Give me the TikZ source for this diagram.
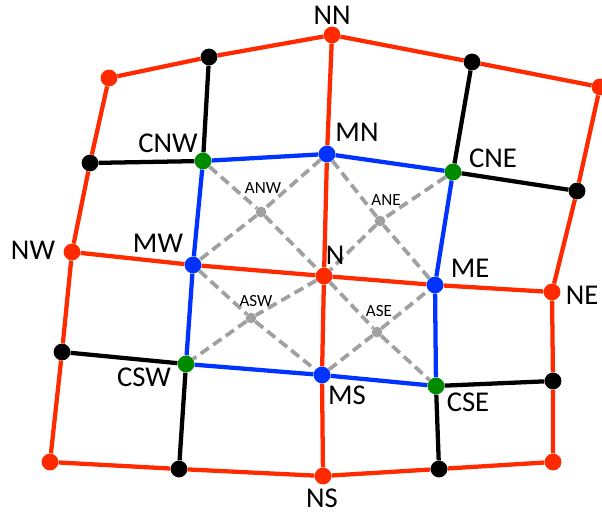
\documentclass[tikz,border=0pt]{standalone}
\usepackage{fontspec}
\setmainfont{Carlito}
\usetikzlibrary{backgrounds}
\definecolor{gred}{HTML}{FF2A00}
\definecolor{gblue}{HTML}{0033FF}
\definecolor{ggreen}{HTML}{008A00}
\definecolor{ggray}{HTML}{A0A0A0}
\begin{document}
\begin{tikzpicture}[x=0.75pt,y=-0.75pt,
  dot/.style={circle,inner sep=0pt,minimum size=12.6pt},
  reddot/.style={dot,fill=gred},
  bluedot/.style={dot,fill=gblue},
  greendot/.style={dot,fill=ggreen},
  blkdot/.style={dot,fill=black},
  graydot/.style={circle,inner sep=0pt,minimum size=8pt,fill=ggray},
  lbl/.style={font=\fontsize{21.5}{21.5}\selectfont,inner sep=0pt},
  slbl/.style={font=\fontsize{12.8}{12.8}\selectfont,inner sep=0pt},
  redline/.style={draw=gred,line width=3.2pt},
  blueline/.style={draw=gblue,line width=3.2pt},
  blkline/.style={draw=black,line width=3.2pt},
  grayline/.style={draw=ggray,line width=2.8pt,dash pattern=on 7.5pt off 4pt}]
\useasboundingbox (0,0) rectangle (602,516);
% dots
\node[reddot] (NN) at (332,35) {};
\node[reddot] (TL) at (109,78) {};
\node[blkdot] (TBL) at (209,57) {};
\node[blkdot] (TBR) at (472,62) {};
\node[reddot] (TR) at (600,87) {};
\node[blkdot] (RB1) at (577,191) {};
\node[reddot] (NE) at (552,292) {};
\node[blkdot] (RB2) at (553,381) {};
\node[reddot] (BR) at (553,462) {};
\node[blkdot] (BBR) at (439,469) {};
\node[reddot] (NS) at (323,476) {};
\node[blkdot] (BBL) at (179,469) {};
\node[reddot] (BL) at (50,462) {};
\node[blkdot] (LB2) at (62,352) {};
\node[reddot] (NW) at (72,252) {};
\node[blkdot] (LB1) at (90,163) {};
\node[greendot] (CNW) at (203,161) {};
\node[bluedot] (MN) at (327,154) {};
\node[greendot] (CNE) at (453,172) {};
\node[bluedot] (MW) at (193,265) {};
\node[reddot] (N) at (324,276) {};
\node[bluedot] (ME) at (435,285) {};
\node[greendot] (CSW) at (186,364) {};
\node[bluedot] (MS) at (322,375) {};
\node[greendot] (CSE) at (436,386) {};
\node[graydot] (ANW) at (261,212) {};
\node[graydot] (ANE) at (380,221) {};
\node[graydot] (ASW) at (251,318) {};
\node[graydot] (ASE) at (377,332) {};
% labels
\node[lbl] (lNN) at (332,15) {NN};
\node[lbl] (lCNW) at (168,143) {CNW};
\node[lbl] (lMN) at (357,132) {MN};
\node[lbl] (lCNE) at (493,158) {CNE};
\node[lbl] (lNW) at (33,250) {NW};
\node[lbl] (lMW) at (158,243) {MW};
\node[lbl] (lN) at (335,255) {N};
\node[lbl] (lME) at (470,268) {ME};
\node[lbl] (lNE) at (582,295) {NE};
\node[lbl] (lCSW) at (144,377) {CSW};
\node[lbl] (lMS) at (347,395) {MS};
\node[lbl] (lCSE) at (468,402) {CSE};
\node[lbl] (lNS) at (322,498) {NS};
\node[slbl] (lANW) at (263,188) {ANW};
\node[slbl] (lANE) at (386,200) {ANE};
\node[slbl] (lASW) at (256,301) {ASW};
\node[slbl] (lASE) at (379,311) {ASE};
\begin{pgfonlayer}{background}
% gray dashed
\path[grayline] (CNW) -- (ANW) -- (N) -- (ASE) -- (CSE);
\path[grayline] (CNE) -- (ANE) -- (N) -- (ASW) -- (CSW);
\path[grayline] (MN) -- (ANW) -- (MW) -- (ASW) -- (MS) -- (ASE) -- (ME) -- (ANE) -- (MN);
% black
\path[blkline] (CNW) -- (TBL) (CNW) -- (LB1) (CNE) -- (TBR) (CNE) -- (RB1)
  (CSW) -- (LB2) (CSW) -- (BBL) (CSE) -- (RB2) (CSE) -- (BBR);
% red
\path[redline] (TL) -- (TBL) -- (NN) -- (TBR) -- (TR) -- (RB1) -- (NE) -- (RB2) -- (BR)
  -- (BBR) -- (NS) -- (BBL) -- (BL) -- (LB2) -- (NW) -- (LB1) -- (TL);
\path[redline] (NN) -- (MN) -- (N) -- (MS) -- (NS);
\path[redline] (NW) -- (MW) -- (N) -- (ME) -- (NE);
% blue
\path[blueline] (CNW) -- (MN) -- (CNE) -- (ME) -- (CSE) -- (MS) -- (CSW) -- (MW) -- (CNW);
\end{pgfonlayer}
\end{tikzpicture}
\end{document}
